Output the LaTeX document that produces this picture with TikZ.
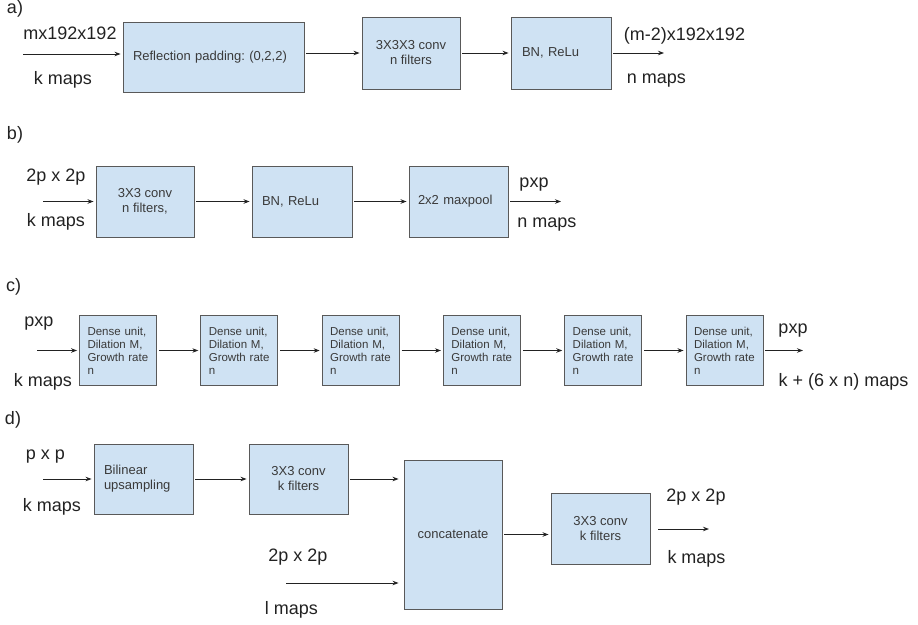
\documentclass[tikz,border=0pt]{standalone}
\usepackage{fontspec}
\setmainfont{Liberation Sans}
\usetikzlibrary{arrows.meta}
\definecolor{boxfill}{HTML}{CFE2F3}
\definecolor{boxline}{HTML}{595959}
\definecolor{ink}{HTML}{222222}
\definecolor{boxtext}{HTML}{3A3A3A}
\frenchspacing

\begin{document}
\begin{tikzpicture}[
  x=1pt,
  y=-1pt,
  line width=0.9pt,
  >={Stealth[length=6pt,width=4.5pt]},
  lbl/.style={text=ink, inner sep=0pt, font=\fontsize{18}{21}\selectfont},
  blk/.style={draw=boxline, fill=boxfill, line width=0.9pt, text=boxtext, inner sep=0pt,
    minimum width=98pt, minimum height=71pt, align=center, font=\fontsize{13}{15}\selectfont},
  blkl/.style={blk, align=left, text width=#1},
  dense/.style={blk, minimum width=77pt, minimum height=70pt, align=left, text width=61pt,
    font=\fontsize{11.5}{13}\selectfont},
  conn/.style={->, draw=ink, line width=0.9pt, shorten <=2pt, shorten >=2pt},
]
  \useasboundingbox (0,0) rectangle (918,624);

  \node[lbl] (la) at (15,8.5) {a)};
  \node[blkl=161pt, minimum width=181pt, minimum height=70pt] (a1) at (213.5,57) {Reflection padding: (0,2,2)};
  \node[blk, minimum height=72pt] (a2) at (411,53) {3X3X3 conv\\n filters};
  \node[blkl=78pt, minimum width=100pt, minimum height=72pt] (a3) at (561,53) {BN, ReLu};
  \coordinate (ain) at (23,54);
  \coordinate (aout) at (664,53);
  \node[lbl] (ainsize) at (70,33) {mx192x192};
  \node[lbl] (ainmaps) at (63,80) {k maps};
  \node[lbl] (aoutsize) at (684.5,36) {(m-2)x192x192};
  \node[lbl] (aoutmaps) at (656.5,80.5) {n maps};
  \draw[conn, shorten <=0pt] (ain) -- (ain -| a1.west);
  \draw[conn] (a1.east |- a2) -- (a2);
  \draw[conn] (a2) -- (a3);
  \draw[conn, shorten >=0pt] (a3) -- (aout);

  \node[lbl] (lb) at (15,134.5) {b)};
  \node[blk] (b1) at (145,201.5) {3X3 conv\\n filters,};
  \node[blkl=80pt, minimum width=100pt] (b2) at (302,201.5) {BN, ReLu};
  \node[blkl=81pt, minimum width=99pt] (b3) at (458.5,201.5) {2x2 maxpool};
  \coordinate (bin) at (43,201.5);
  \coordinate (bout) at (561,201.5);
  \node[lbl] (binsize) at (56,177.5) {2p x 2p};
  \node[lbl] (binmaps) at (56,222) {k maps};
  \node[lbl] (boutsize) at (534,185) {pxp};
  \node[lbl] (boutmaps) at (547,225) {n maps};
  \draw[conn, shorten <=0pt] (bin) -- (b1);
  \draw[conn] (b1) -- (b2);
  \draw[conn] (b2) -- (b3);
  \draw[conn, shorten >=0pt] (b3) -- (bout);

  \node[lbl] (lc) at (13.5,287) {c)};
  \foreach \i in {1,...,6}
    \node[dense] (c\i) at ({118+121.3*(\i-1)},350.5) {Dense unit,\\Dilation M,\\Growth rate\\n};
  \coordinate (cin) at (37,350.5);
  \coordinate (cout) at (803,350.5);
  \node[lbl] (cinsize) at (39,323.5) {pxp};
  \node[lbl] (cinmaps) at (43,381.5) {k maps};
  \node[lbl] (coutsize) at (793,331) {pxp};
  \node[lbl] (coutmaps) at (843.5,382) {k + (6 x n) maps};
  \draw[conn, shorten <=0pt] (cin) -- (c1);
  \foreach \i/\j in {1/2,2/3,3/4,4/5,5/6}
    \draw[conn] (c\i) -- (c\j);
  \draw[conn, shorten >=0pt] (c6) -- (cout);

  \node[lbl] (ld) at (13,420) {d)};
  \node[blkl=79pt, minimum width=99pt, minimum height=70pt] (d1) at (143.5,479) {Bilinear\\upsampling};
  \node[blk, minimum width=99pt, minimum height=70pt] (d2) at (298.5,479) {3X3 conv\\k filters};
  \node[blk, minimum height=149pt] (cat) at (453,534.5) {concatenate};
  \node[blk, minimum width=99pt] (d5) at (600.5,528.5) {3X3 conv\\k filters};
  \coordinate (din) at (43,479);
  \coordinate (lin) at (286,583);
  \coordinate (dout) at (709,529);
  \node[lbl] (dinsize) at (45.5,456.5) {p x p};
  \node[lbl] (dinmaps) at (52,507) {k maps};
  \node[lbl] (linsize) at (298,557.5) {2p x 2p};
  \node[lbl] (linmaps) at (291.5,610) {l maps};
  \node[lbl] (doutsize) at (696,497.5) {2p x 2p};
  \node[lbl] (doutmaps) at (696.5,559) {k maps};
  \draw[conn, shorten <=0pt] (din) -- (d1);
  \draw[conn] (d1) -- (d2);
  \draw[conn, shorten >=5pt] (d2) -- (d2 -| cat.west);
  \draw[conn, shorten <=0pt, shorten >=5pt] (lin) -- (lin -| cat.west);
  \draw[conn] (cat) -- (cat -| d5.west);
  \draw[conn, shorten <=8pt, shorten >=0pt] (d5.east |- dout) -- (dout);

\end{tikzpicture}
\end{document}
